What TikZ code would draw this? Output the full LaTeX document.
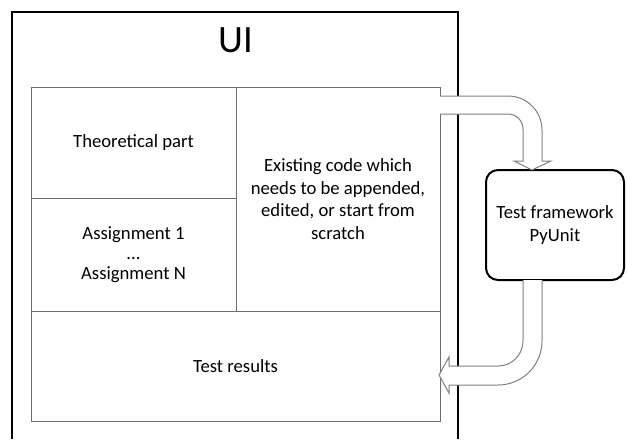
\documentclass[tikz,border=0pt]{standalone}
\usepackage{fontspec}
\setmainfont{Carlito}
\usepackage{xcolor}
\usetikzlibrary{calc}

\definecolor{boxgray}{RGB}{110,110,110}
\definecolor{arrowgray}{RGB}{128,128,128}

\tikzset{
    cell/.style={draw=boxgray, line width=0.75pt, inner sep=0pt, outer sep=0pt,
        align=center, font=\fontsize{14}{17}\selectfont},
    blockarrow/.style={draw=arrowgray, line width=0.75pt, fill=white},
}

\begin{document}
\begin{tikzpicture}[x=0.75pt, y=0.75pt]
        \useasboundingbox (0, 0) rectangle (627, -439);

        % UI window
        \draw[line width=1.5pt] (12, -439) -- (12, -12) -- (458, -12) -- (458, -439);
        \node[font=\fontsize{29}{34}\selectfont] (ui) at (236, -40) {UI};

        \node[cell, minimum width=153.75pt, minimum height=83.25pt] (theory) at (133.5, -142.5) {Theoretical part};
        \node[cell, minimum width=153.75pt, minimum height=84.75pt, font=\fontsize{14}{15}\selectfont] (assign) at (133.5, -254.5) {Assignment 1\\...\\Assignment N};
        \node[cell, minimum width=153pt, minimum height=168pt] (code) at (338, -199) {Existing code which\\needs to be appended,\\edited, or start from\\scratch};
        \node[cell, minimum width=306.75pt, minimum height=82.5pt] (results) at (235.5, -366) {Test results};

        \node[cell, draw=black, line width=1.5pt, rounded corners=9pt, minimum width=103.5pt, minimum height=82.5pt] (fw) at (555, -225) {Test framework\\PyUnit};

        % code goes to the framework
        \draw[blockarrow] ($(code.north east)+(0, -27)$) -- ++(68, 0) arc[start angle=90, end angle=0, radius=15]
            -- ++(0, -32) -- ++(-9, 0) -- ($(fw.north west)+(46, 0)$) -- ++(19, 9) -- ++(-9, 0) -- ++(0, 31)
            arc[start angle=0, end angle=90, radius=34] -- ++(-68, 0);

        % results come back
        \draw[blockarrow] ($(fw.south west)+(56, 0)$) -- ++(0, -61) arc[start angle=0, end angle=-90, radius=44]
            -- ++(-49, 0) -- ++(0, -8) -- ($(results.east)+(-1, -9)$) -- ++(10, 18) -- ++(0, -9) -- ++(49, 0)
            arc[start angle=-90, end angle=0, radius=25] -- ++(0, 61);
\end{tikzpicture}
\end{document}
